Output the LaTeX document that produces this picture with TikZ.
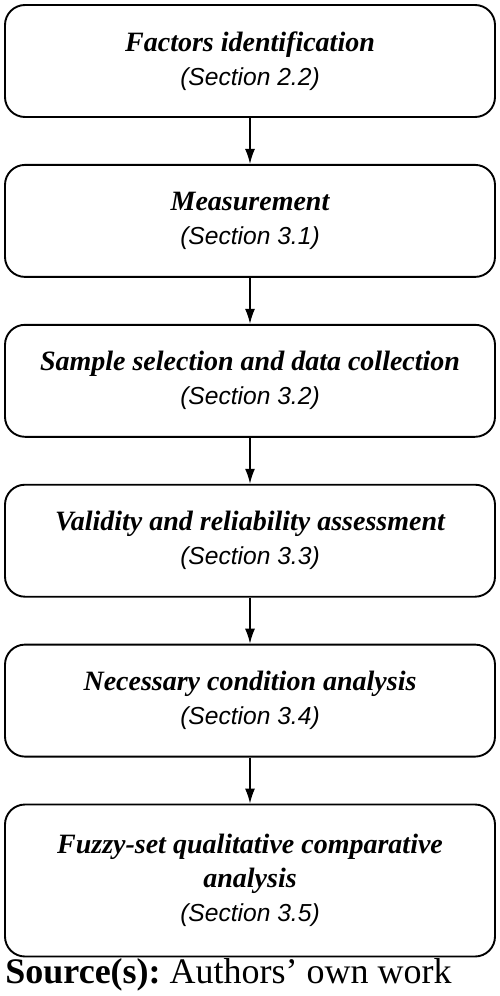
\documentclass[tikz,border=0pt]{standalone}
\usepackage{fontspec}
\setmainfont{Liberation Serif}
\newfontfamily\secfont{Liberation Sans}
\usepackage{tikz}
\usetikzlibrary{chains,positioning,arrows.meta}

\newcommand{\titlefont}{\fontsize{14}{17}\selectfont\bfseries\itshape}
\newcommand{\secref}[1]{{\secfont\mdseries\itshape\fontsize{12.3}{17}\selectfont(Section #1)}}

\begin{document}
\begin{tikzpicture}[
  stage/.style={
   draw,
   rounded corners=10pt,
   line width=0.95pt,
   minimum width=245pt,
   minimum height=56pt,
   align=center,
   font=\titlefont,
   join = by {-{Latex[length=7.5pt,width=5pt]}, line width=0.7pt, rounded corners=0pt}
  },
  start chain=going below,node distance=23pt]
  \useasboundingbox (0,0) rectangle (249.5pt,-498pt);
  	\node[on chain,stage] at (125pt,-30.5pt)
		  (factors) {Factors identification\\ \secref{2.2}};
	\node[on chain,stage]
		  (measure) {Measurement\\ \secref{3.1}};
  	\node[on chain,stage]
		  (sample) {Sample selection and data collection\\ \secref{3.2}};
	\node[on chain,stage]
		  (validity) {Validity and reliability assessment\\ \secref{3.3}};
  	\node[on chain,stage]
		  (nca) {Necessary condition analysis\\ \secref{3.4}};
  	\node[on chain,stage,minimum height=76pt]
		  (fsqca) {Fuzzy-set qualitative comparative\\ analysis\\ \secref{3.5}};

	\node[anchor=base west,inner sep=0pt,font=\fontsize{18}{21}\selectfont\frenchspacing] at (2.5pt,-491.5pt)
		  (source) {\textbf{Source(s):} Authors’ own work};
\end{tikzpicture}
\end{document}
